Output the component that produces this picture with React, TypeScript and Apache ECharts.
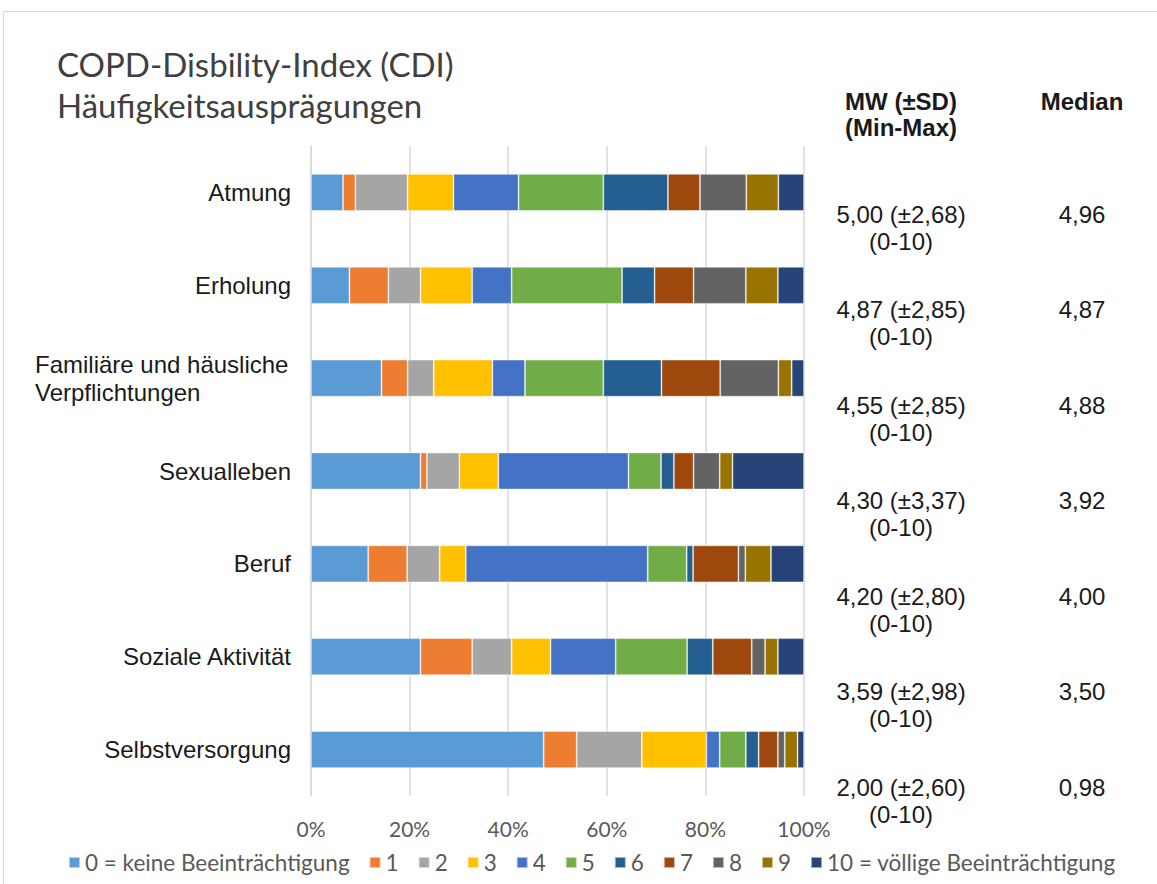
import React, { useEffect, useRef } from "react";
import * as echarts from "echarts";

// Items of the COPD Disability Index, top to bottom
const categories = [
  "Atmung",
  "Erholung",
  "Familiäre und häusliche Verpflichtungen",
  "Sexualleben",
  "Beruf",
  "Soziale Aktivität",
  "Selbstversorgung",
];

// Share of answers (%) per rating level, one value per item in the order above
const lvl0 = [6.5, 7.8, 14.3, 22.2, 11.6, 22.2, 47.2];
const lvl1 = [2.5, 7.9, 5.3, 1.3, 7.9, 10.5, 6.7];
const lvl2 = [10.6, 6.5, 5.3, 6.6, 6.6, 8.0, 13.2];
const lvl3 = [9.3, 10.5, 11.9, 7.9, 5.3, 7.9, 13.1];
const lvl4 = [13.2, 8.0, 6.6, 26.4, 36.9, 13.2, 2.7];
const lvl5 = [17.2, 22.4, 15.9, 6.6, 7.9, 14.5, 5.3];
const lvl6 = [13.1, 6.6, 11.8, 2.6, 1.3, 5.2, 2.6];
const lvl7 = [6.5, 7.9, 11.9, 4.0, 9.2, 7.9, 3.9];
const lvl8 = [9.4, 10.6, 11.8, 5.3, 1.4, 2.7, 1.4];
const lvl9 = [6.5, 6.5, 2.7, 2.6, 5.2, 2.6, 2.6];
const lvl10 = [5.2, 5.3, 2.5, 14.5, 6.7, 5.3, 1.3];

const levelNames = [
  "0 = keine Beeinträchtigung",
  "1",
  "2",
  "3",
  "4",
  "5",
  "6",
  "7",
  "8",
  "9",
  "10 = völlige Beeinträchtigung",
];
const levelValues = [lvl0, lvl1, lvl2, lvl3, lvl4, lvl5, lvl6, lvl7, lvl8, lvl9, lvl10];
const levelColors = [
  "#5B9BD5",
  "#ED7D31",
  "#A5A5A5",
  "#FFC000",
  "#4472C4",
  "#70AD47",
  "#255E91",
  "#9E480E",
  "#636363",
  "#997300",
  "#264478",
];

// Summary statistics per item
const meanValues = [5.0, 4.87, 4.55, 4.3, 4.2, 3.59, 2.0];
const sdValues = [2.68, 2.85, 2.85, 3.37, 2.8, 2.98, 2.6];
const medianValues = [4.96, 4.87, 4.88, 3.92, 4.0, 3.5, 0.98];
const rangeLabels = ["0-10", "0-10", "0-10", "0-10", "0-10", "0-10", "0-10"];

const xTicks = [0, 20, 40, 60, 80, 100];

const de = (v: number) => v.toFixed(2).replace(".", ",");

const ARIAL = "'Liberation Sans', Arial, sans-serif";
const SOFT = "Lato, 'Open Sans', sans-serif";
const TEXT = "#1a1a1a";

export default function App() {
  const ref = useRef<HTMLDivElement>(null);

  useEffect(() => {
    document.body.style.margin = "0";
    if (!ref.current) return;
    const chart = echarts.init(ref.current, undefined, { renderer: "svg" });

    const series = levelNames.map((name, i) => ({
      name,
      type: "bar" as const,
      stack: "total",
      barWidth: 37,
      itemStyle: {
        color: levelColors[i],
        borderColor: "rgba(255,255,255,0.55)",
        borderWidth: 0.8,
      },
      data: levelValues[i],
    }));

    const txt = (x: number, y: number, text: string, bold = false) => ({
      type: "text",
      x,
      y,
      style: {
        text,
        font: `${bold ? "bold " : ""}24px ${ARIAL}`,
        fill: TEXT,
        align: "center",
        verticalAlign: "middle",
      },
    });

    const colMw = 901;
    const colMed = 1082;
    const tableTexts: any[] = [
      txt(colMw, 101, "MW (±SD)", true),
      txt(colMw, 127, "(Min-Max)", true),
      txt(colMed, 101, "Median", true),
    ];
    categories.forEach((_, i) => {
      const y = 214 + i * 95.5;
      tableTexts.push(
        txt(colMw, y, `${de(meanValues[i])} (±${de(sdValues[i])})`),
        txt(colMw, y + 27, `(${rangeLabels[i]})`),
        txt(colMed, y, de(medianValues[i]))
      );
    });

    chart.setOption({
      animation: false,
      backgroundColor: "#ffffff",
      title: {
        text: "COPD-Disbility-Index (CDI)\nHäufigkeitsausprägungen",
        left: 52,
        top: 38,
        textStyle: {
          fontFamily: SOFT,
          fontSize: 33,
          fontWeight: "normal",
          color: "#404040",
          lineHeight: 41,
        },
      },
      legend: {
        left: 63,
        top: 846,
        itemWidth: 11,
        itemHeight: 11,
        itemGap: 19,
        icon: "rect",
        data: levelNames,
        textStyle: { fontFamily: SOFT, fontSize: 22.5, color: "#595959" },
      },
      grid: { left: 311, right: 353, top: 146, bottom: 88, containLabel: false },
      xAxis: {
        type: "value",
        min: 0,
        max: 100,
        interval: 20,
        axisLine: { show: false },
        axisTick: { show: false },
        splitLine: { lineStyle: { color: "#d9d9d9", width: 1.5 } },
        axisLabel: {
          margin: 22,
          fontFamily: SOFT,
          fontSize: 21,
          color: "#595959",
          formatter: (v: number) => (xTicks.includes(v) ? `${v}%` : ""),
        },
      },
      yAxis: {
        type: "category",
        inverse: true,
        data: categories,
        axisTick: { show: false },
        axisLine: { show: true, lineStyle: { color: "#d9d9d9", width: 1.5 } },
        axisLabel: {
          margin: 20,
          fontFamily: ARIAL,
          fontSize: 24,
          color: TEXT,
          formatter: (v: string) =>
            v.startsWith("Familiäre")
              ? "{wrap|Familiäre und häusliche}\n{wrap|Verpflichtungen}"
              : v,
          rich: {
            wrap: {
              fontFamily: ARIAL,
              fontSize: 24,
              color: TEXT,
              width: 256,
              align: "left",
              lineHeight: 28,
            },
          },
        },
      },
      graphic: [
        {
          type: "rect",
          shape: { x: 3.5, y: 11.5, width: 1170, height: 900 },
          style: { fill: "none", stroke: "#d9d9d9", lineWidth: 1 },
          silent: true,
        },
        ...tableTexts,
      ],
      series,
    });

    return () => chart.dispose();
  }, []);

  return <div ref={ref} style={{ width: 1157, height: 884 }} />;
}
